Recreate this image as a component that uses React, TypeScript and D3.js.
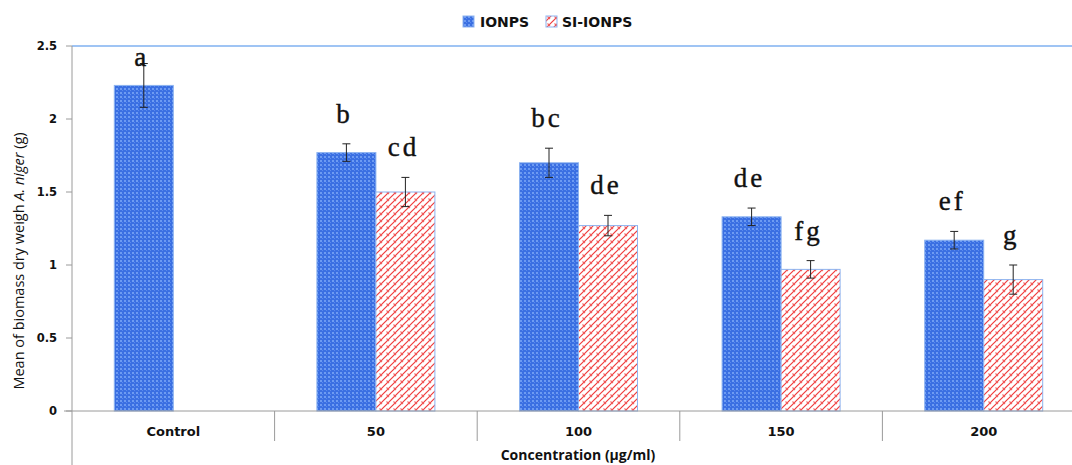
import React from 'react';
import * as d3 from 'd3';

const categories = ['Control', '50', '100', '150', '200'];
const seriesNames = ['IONPS', 'SI-IONPS'];
const ionpsMean = [2.23, 1.77, 1.70, 1.33, 1.17];
const ionpsErr = [0.15, 0.06, 0.10, 0.06, 0.06];
const ionpsLetters = ['a', 'b', 'bc', 'de', 'ef'];
const siMean = [null, 1.50, 1.27, 0.97, 0.90];
const siErr = [null, 0.10, 0.07, 0.06, 0.10];
const siLetters = ['', 'cd', 'de', 'fg', 'g'];
const yTicks = [0, 0.5, 1, 1.5, 2, 2.5];

const W = 1072;
const H = 465;
const left = 72;
const right = 1085;
const top = 46;
const bottom = 411;

export default function App() {
  const x = d3.scaleBand<string>().domain(categories).range([left, right]);
  const y = d3.scaleLinear().domain([0, 2.5]).range([bottom, top]);
  const barW = 59;

  const series = [
    { name: seriesNames[0], mean: ionpsMean, err: ionpsErr, letters: ionpsLetters, fill: 'url(#pBlue)', off: -barW },
    { name: seriesNames[1], mean: siMean, err: siErr, letters: siLetters, fill: 'url(#pRed)', off: 0 },
  ];

  const ticksFmt = d3.format('');

  return (
    <svg width={W} height={H} style={{ position: 'absolute', left: 0, top: 0, background: '#fff' }}>
      <defs>
        <pattern id="pBlue" width="4" height="4" patternUnits="userSpaceOnUse">
          <rect width="4" height="4" fill="#3a6fe2" />
          <rect x="0" y="0" width="2" height="2" fill="#6d9bf2" />
          <rect x="2" y="2" width="1" height="1" fill="#5a8bee" />
        </pattern>
        <pattern id="pRed" width="7" height="7" patternUnits="userSpaceOnUse">
          <rect width="7" height="7" fill="#fff" />
          <path d="M0,7 L7,0 M-2,2 L2,-2 M5,9 L9,5" stroke="#f03c3c" strokeWidth="1.2" />
          <path d="M1.5,2.5 L4,5" stroke="#f26262" strokeWidth="1.1" />
        </pattern>
      </defs>

      {/* legend */}
      <g fontFamily="DejaVu Sans" fontWeight="bold" fontSize="14">
        <rect x={463} y={16} width={11} height={11} fill="url(#pBlue)" stroke="#8db3f0" />
        <text x={480} y={27} fill="#111">IONPS</text>
        <rect x={546} y={16} width={11} height={11} fill="url(#pRed)" stroke="#8db3f0" />
        <text x={562} y={27} fill="#111">SI-IONPS</text>
      </g>

      {/* plot top border */}
      <line x1={left} x2={W} y1={top} y2={top} stroke="#7fb0f0" strokeWidth={1.5} />

      {/* bars */}
      {series.map((s) =>
        categories.map((c, i) => {
          const v = s.mean[i];
          if (v == null) return null;
          const cx = (x(c) as number) + x.bandwidth() / 2;
          const bx = cx + s.off;
          return (
            <rect key={s.name + c} x={bx} y={y(v)} width={barW} height={y(0) - y(v)}
              fill={s.fill} stroke="#8db3f0" strokeWidth={1} />
          );
        })
      )}

      {/* error bars */}
      {series.map((s) =>
        categories.map((c, i) => {
          const v = s.mean[i];
          const e = s.err[i];
          if (v == null || e == null) return null;
          const cx = (x(c) as number) + x.bandwidth() / 2 + s.off + barW / 2;
          return (
            <g key={'e' + s.name + c} stroke="#222" strokeWidth={1}>
              <line x1={cx} x2={cx} y1={y(v + e)} y2={y(v - e)} />
              <line x1={cx - 4} x2={cx + 4} y1={y(v + e)} y2={y(v + e)} />
              <line x1={cx - 4} x2={cx + 4} y1={y(v - e)} y2={y(v - e)} />
            </g>
          );
        })
      )}

      {/* significance letters */}
      {series.map((s) =>
        categories.map((c, i) => {
          const v = s.mean[i];
          const e = s.err[i];
          const t = s.letters[i];
          if (v == null || e == null || !t) return null;
          const cx = (x(c) as number) + x.bandwidth() / 2 + s.off + barW / 2;
          const ty = Math.max(y(v + e) - 21, 66);
          return (
            <text key={'l' + s.name + c} x={cx - 2} y={ty} textAnchor="middle"
              fontFamily="Liberation Serif" fontSize="27" letterSpacing="3" stroke="#111" strokeWidth="0.4" fill="#111">{t}</text>
          );
        })
      )}

      {/* y axis */}
      <line x1={left} x2={left} y1={top} y2={H} stroke="#9a9a9a" strokeWidth={1} />
      {yTicks.map((t) => (
        <g key={t}>
          <line x1={left - 6} x2={left} y1={y(t)} y2={y(t)} stroke="#9a9a9a" />
          <text x={left - 15} y={y(t) + 4} textAnchor="end" fontFamily="DejaVu Sans"
            fontWeight="bold" fontSize="11.5" fill="#111">{ticksFmt(t)}</text>
        </g>
      ))}

      {/* x axis */}
      <line x1={left - 8} x2={W} y1={bottom} y2={bottom} stroke="#9a9a9a" strokeWidth={1} />
      {categories.slice(1).map((c) => (
        <line key={'s' + c} x1={x(c) as number} x2={x(c) as number} y1={bottom} y2={441} stroke="#9a9a9a" />
      ))}
      {categories.map((c) => (
        <text key={'c' + c} x={(x(c) as number) + x.bandwidth() / 2} y={436} textAnchor="middle"
          fontFamily="DejaVu Sans" fontWeight="bold" fontSize="13" fill="#111">{c}</text>
      ))}

      {/* axis titles */}
      <text x={578} y={460} textAnchor="middle" fontFamily="Open Sans" fontWeight="bold" fontSize="14" fill="#111">
        Concentration (µg/ml)
      </text>
      <text transform={`translate(24,${261}) rotate(-90)`} textAnchor="middle" fontFamily="Open Sans" fontSize="14.5" fill="#111">
        Mean of biomass dry weigh <tspan fontStyle="italic">A. niger</tspan> (g)
      </text>
    </svg>
  );
}
